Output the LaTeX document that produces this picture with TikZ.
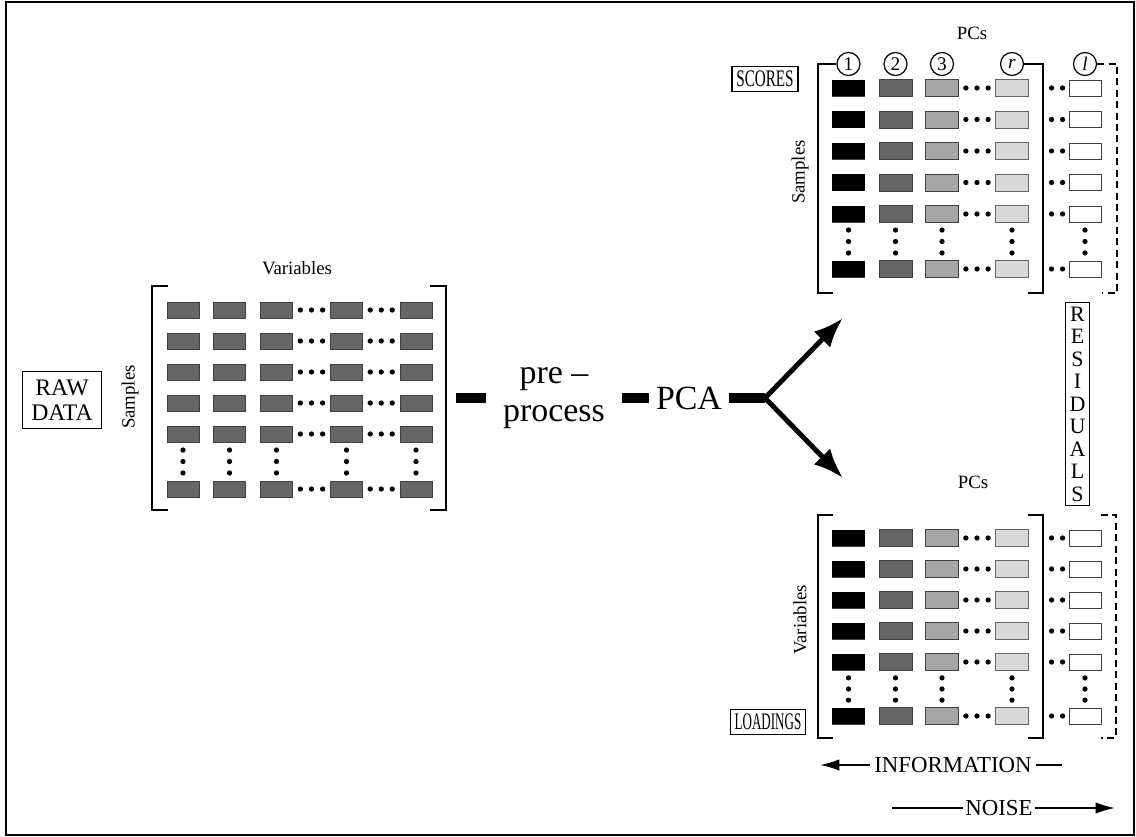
\documentclass[tikz,border=0pt]{standalone}
\usepackage{fontspec}
\usepackage{graphicx}
\setmainfont{Liberation Serif}
\usetikzlibrary{calc,arrows.meta}

\begin{document}
\begin{tikzpicture}[x=0.02cm, y=-0.02cm,
    cell/.style={draw=black!75, line width=0.5pt, minimum width=0.64cm,
                 minimum height=0.32cm, inner sep=0pt},
    lbl/.style={font=\fontsize{10.7}{12}\selectfont},
    tag/.style={draw, line width=0.7pt, inner sep=2.5pt, align=center,
                font=\fontsize{13.5}{14.2}\selectfont},
    big/.style={font=\fontsize{19.3}{22}\selectfont, align=center},
    pc/.style={draw, circle, minimum size=0.46cm, inner sep=0pt, fill=white,
               line width=0.7pt, font=\fontsize{11}{12}\selectfont},
    bar/.style={line width=6pt},
    brk/.style={line width=0.9pt},
    dashbrk/.style={line width=0.9pt, dash pattern=on 4pt off 2.5pt},
    fork/.style={line width=2.8pt, -{Latex[length=17pt,width=13pt]}},
    note/.style={line width=1pt}]

    % frame
    \useasboundingbox (0,0) rectangle (1136,837);
    \draw[line width=1pt] (6,2) rectangle (1134,835);

    % raw data matrix
    \node[tag, minimum width=1.58cm, minimum height=1.14cm] (raw) at (62,400) {RAW\\DATA};
    \node[lbl] (rawvar) at (297,268) {Variables};
    \node[lbl, rotate=90] (rawsmp) at (130,397) {Samples};
    \foreach \x [count=\j] in {183,229.5,276.5,346.5,416}
      \foreach \y [count=\i] in {310,341,372,403,434,489}
        \node[cell, fill=black!60] (raw-\i-\j) at (\x,\y) {};
    \foreach \i in {1,...,6} {
      \foreach \f in {0.2,0.5,0.8} {
        \fill ($(raw-\i-3.east)!\f!(raw-\i-4.west)$) circle[radius=1.5pt];
        \fill ($(raw-\i-4.east)!\f!(raw-\i-5.west)$) circle[radius=1.5pt];
      }
    }
    \foreach \j in {1,...,5}
      \foreach \f in {0.2,0.5,0.8}
        \fill ($(raw-5-\j.south)!\f!(raw-6-\j.north)$) circle[radius=1.5pt];
    \draw[brk] (168,286) -- (152,286) -- (152,510) -- (168,510);
    \draw[brk] (430,286) -- (446,286) -- (446,510) -- (430,510);

    % pre-process and PCA
    \coordinate (rawout) at (456,398);
    \coordinate (split) at (765,398);
    \coordinate (toscores) at (843,318);
    \coordinate (toloads) at (843,478);
    \node[big, inner xsep=0.33cm] (pre) at (554,398) {pre --\\process};
    \node[big, inner xsep=0.14cm] (pca) at (689,398) {PCA};
    \draw[bar] (rawout) -- (rawout -| pre.west);
    \draw[bar] (pre.east) -- (pca.west);
    \draw[bar] (pca.east) -- (split);
    \draw[fork] (split) -- (toscores);
    \draw[fork] (split) -- (toloads);

    % scores matrix
    \node[tag] (scores) at (765,79) {\scalebox{0.64}[1]{SCORES}};
    \node[lbl] (scpcs) at (972,33) {PCs};
    \node[lbl, rotate=90] (scsmp) at (800,172) {Samples};
    \foreach \x [count=\j] in {848.5,895.5,942,1012,1085}
      \foreach \y [count=\i] in {88,119.5,151,182.5,214,269}
        \node[cell] (sc-\i-\j) at (\x,\y) {};
    \foreach \i in {1,...,6} {
      \fill[black] (sc-\i-1.south west) rectangle (sc-\i-1.north east);
      \draw[fill=black!60, draw=black!75] (sc-\i-2.south west) rectangle (sc-\i-2.north east);
      \draw[fill=black!35, draw=black!75] (sc-\i-3.south west) rectangle (sc-\i-3.north east);
      \draw[fill=black!15, draw=black!60] (sc-\i-4.south west) rectangle (sc-\i-4.north east);
      \foreach \f in {0.2,0.5,0.8}
        \fill ($(sc-\i-3.east)!\f!(sc-\i-4.west)$) circle[radius=1.5pt];
      \fill ($(sc-\i-5.west)+(-6,0)$) circle[radius=1.5pt];
      \fill ($(sc-\i-5.west)+(-17,0)$) circle[radius=1.5pt];
    }
    \foreach \j in {1,...,5}
      \foreach \f in {0.2,0.5,0.8}
        \fill ($(sc-5-\j.south)!\f!(sc-6-\j.north)$) circle[radius=1.5pt];
    \node[pc] (h1) at (848.5,64) {1};
    \node[pc] (h2) at (895.5,64) {2};
    \node[pc] (h3) at (942,64) {3};
    \node[pc] (hr) at (1012,64) {\textit{r}};
    \node[pc] (hl) at (1085,64) {\textit{l}};
    \draw[brk] (h1.west) -- (818,64) -- (818,293) -- (833,293);
    \draw[brk] (hr.east) -- (1043,64) -- (1043,293) -- (1028,293);
    \draw[dashbrk] (hl.east) -- (1117,64) -- (1117,293) -- (1102,293);

    % residuals
    \node[tag, inner xsep=2.5pt, font=\fontsize{12.5}{12.8}\selectfont] (resid) at (1077.5,404)
      {R\\E\\S\\I\\D\\U\\A\\L\\S};

    % loadings matrix
    \node[tag] (loads) at (768,722) {\scalebox{0.55}[1]{LOADINGS}};
    \node[lbl] (ldpcs) at (973,482) {PCs};
    \node[lbl, rotate=90] (ldvar) at (800,620) {Variables};
    \foreach \x [count=\j] in {848.5,895.5,942,1012,1085}
      \foreach \y [count=\i] in {538,569,600,631,662,716}
        \node[cell] (ld-\i-\j) at (\x,\y) {};
    \foreach \i in {1,...,6} {
      \fill[black] (ld-\i-1.south west) rectangle (ld-\i-1.north east);
      \draw[fill=black!60, draw=black!75] (ld-\i-2.south west) rectangle (ld-\i-2.north east);
      \draw[fill=black!35, draw=black!75] (ld-\i-3.south west) rectangle (ld-\i-3.north east);
      \draw[fill=black!15, draw=black!60] (ld-\i-4.south west) rectangle (ld-\i-4.north east);
      \foreach \f in {0.2,0.5,0.8}
        \fill ($(ld-\i-3.east)!\f!(ld-\i-4.west)$) circle[radius=1.5pt];
      \fill ($(ld-\i-5.west)+(-6,0)$) circle[radius=1.5pt];
      \fill ($(ld-\i-5.west)+(-17,0)$) circle[radius=1.5pt];
    }
    \foreach \j in {1,...,5}
      \foreach \f in {0.2,0.5,0.8}
        \fill ($(ld-5-\j.south)!\f!(ld-6-\j.north)$) circle[radius=1.5pt];
    \draw[brk] (833,515) -- (818,515) -- (818,738) -- (833,738);
    \draw[brk] (1028,515) -- (1043,515) -- (1043,738) -- (1028,738);
    \draw[dashbrk] (1101,515) -- (1116,515) -- (1116,738) -- (1101,738);

    % information and noise
    \node[font=\fontsize{13}{14}\selectfont, inner xsep=2pt] (info) at (953,765) {INFORMATION};
    \coordinate (infoend) at (820,765);
    \coordinate (infotail) at (1062,765);
    \draw[note, -{Latex[length=11pt,width=6.5pt]}] (info.west) -- (infoend);
    \draw[note] (info.east) -- (infotail);
    \node[font=\fontsize{13}{14}\selectfont, inner xsep=1pt] (noise) at (999,808) {NOISE};
    \coordinate (noisetail) at (892,808);
    \coordinate (noiseend) at (1115,808);
    \draw[note] (noisetail) -- (noise.west);
    \draw[note, -{Latex[length=11pt,width=6.5pt]}] (noise.east) -- (noiseend);
  \end{tikzpicture}
\end{document}
